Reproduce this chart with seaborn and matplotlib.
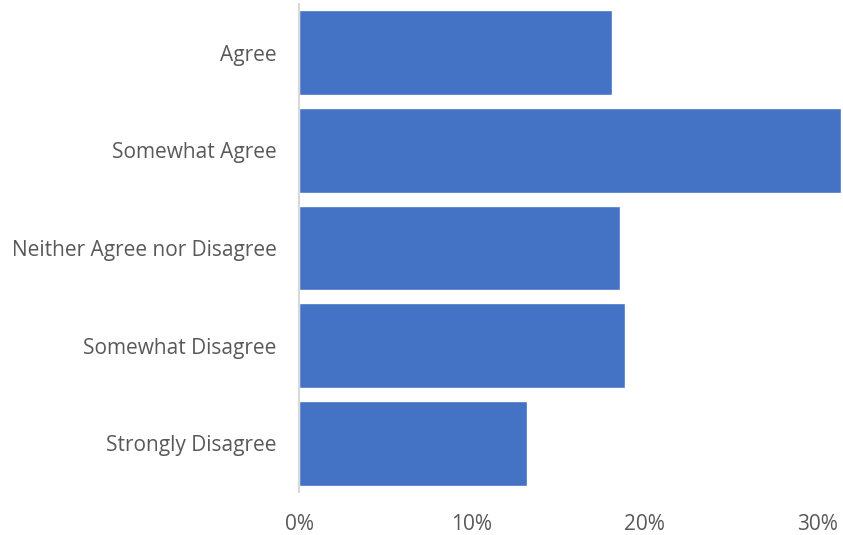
import matplotlib
matplotlib.use("Agg")
import matplotlib.pyplot as plt
import matplotlib.ticker as mticker
import seaborn as sns
import pandas as pd

categories = ["Agree", "Somewhat Agree", "Neither Agree nor Disagree",
              "Somewhat Disagree", "Strongly Disagree"]
shares = [18.1, 31.4, 18.6, 18.9, 13.2]
x_ticks = [0, 10, 20, 30]

df = pd.DataFrame({"category": categories, "share": shares})

sns.set_theme(style="white")
plt.rcParams["font.family"] = ["Open Sans", "DejaVu Sans"]

fig = plt.figure(figsize=(8.43, 5.35), dpi=100)
ax = fig.add_axes([299 / 843, 1 - 492 / 535, 1 - 299 / 843, 488 / 535])

sns.barplot(data=df, x="share", y="category", order=categories, color="#4472C4",
            saturation=1, width=0.87, ax=ax)

ax.set_xlim(0, 31.5)
ax.set_xticks(x_ticks)
ax.xaxis.set_major_formatter(mticker.FuncFormatter(lambda v, p: f"{v:.0f}%"))
ax.set_xlabel("")
ax.set_ylabel("")
for s in ["top", "right", "bottom"]:
    ax.spines[s].set_visible(False)
ax.spines["left"].set_color("#D9D9D9")
ax.spines["left"].set_linewidth(1.5)
ax.tick_params(axis="both", length=0, labelsize=15, colors="#595959")
ax.tick_params(axis="x", pad=16)
ax.tick_params(axis="y", pad=16)

fig.savefig("out.png", dpi=100)
